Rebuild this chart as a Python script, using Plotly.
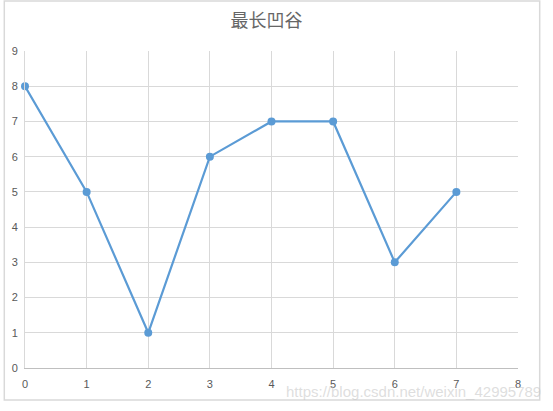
import plotly.graph_objects as go

x_vals = [0, 1, 2, 3, 4, 5, 6, 7]
y_vals = [8, 5, 1, 6, 7, 7, 3, 5]
title_text = "最长凹谷"
watermark = "https://blog.csdn.net/weixin_42995789"

fig = go.Figure()
fig.add_trace(go.Scatter(
    x=x_vals, y=y_vals, mode="lines+markers",
    line=dict(color="#5B9BD5", width=2.2),
    marker=dict(color="#5B9BD5", size=8),
    showlegend=False, cliponaxis=False,
))

fig.update_layout(
    width=553, height=411,
    margin=dict(l=22, r=35, t=51, b=43),
    paper_bgcolor="white", plot_bgcolor="white",
    title=dict(text=title_text, xref="paper", x=0.49, xanchor="center", y=0.95, yanchor="middle",
               font=dict(family="Noto Sans CJK SC", size=18, color="#666666")),
    font=dict(family="Liberation Sans", size=11, color="#595959"),
    xaxis=dict(range=[0, 8], dtick=1, showgrid=True, gridcolor="#D9D9D9", gridwidth=1,
               zeroline=False, showline=True, linecolor="#BFBFBF", linewidth=1,
               ticks="", ticklabelstandoff=6),
    yaxis=dict(range=[0, 9], dtick=1, showgrid=True, gridcolor="#D9D9D9", gridwidth=1,
               zeroline=False, showline=True, linecolor="#D9D9D9", linewidth=1,
               ticks="", ticklabelstandoff=4),
    shapes=[dict(type="rect", xref="paper", yref="paper",
                 x0=-0.042, x1=1.044, y0=-0.101, y1=1.158,
                 line=dict(color="#D9D9D9", width=1.5))],
    annotations=[dict(text=watermark, xref="paper", yref="paper", x=1.05, y=-0.075,
                      xanchor="right", yanchor="middle", showarrow=False,
                      font=dict(family="Liberation Sans", size=15, color="rgba(200,200,200,0.6)"))],
)

fig.write_html("out.html", config={"displayModeBar": False},
               post_script="document.body.style.margin='0px';")
